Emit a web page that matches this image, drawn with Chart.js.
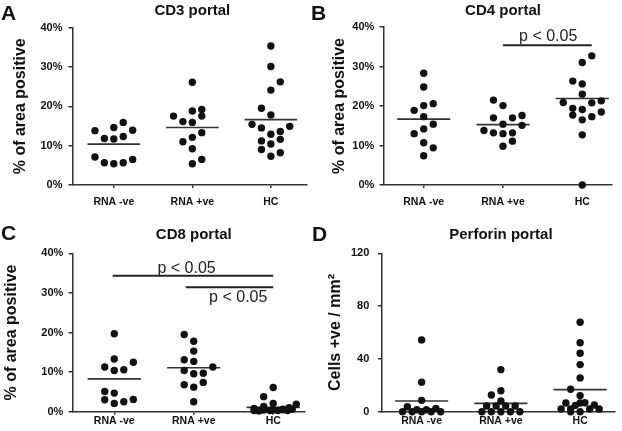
<!DOCTYPE html>
<html>
<head>
<meta charset="utf-8">
<script src="https://cdn.jsdelivr.net/npm/chart.js@4.4.1/dist/chart.umd.min.js"></script>
<style>
  html, body { margin: 0; padding: 0; background: #fff; }
  #wrap { position: relative; width: 622px; height: 431px; }
  canvas { position: absolute; }
</style>
</head>
<body>
<div id="wrap">
  <canvas id="cA" width="311" height="215" style="left:0;top:0"></canvas>
  <canvas id="cB" width="311" height="215" style="left:311px;top:0"></canvas>
  <canvas id="cC" width="311" height="215" style="left:0;top:216px"></canvas>
  <canvas id="cD" width="311" height="215" style="left:311px;top:216px"></canvas>
</div>
<script>
// groups on the x axis
var groups = ['RNA -ve', 'RNA +ve', 'HC'];
var pctTicks = [0, 10, 20, 30, 40];
var perfTicks = [0, 40, 80, 120];

// A - CD3 portal (% of area positive)
var cd3Neg = [13.8, 14.6, 15.9, 13.9, 11.8, 11.7, 12.3, 7.1, 5.65, 5.4, 5.65, 6.5];
var cd3Pos = [26.1, 17.5, 16.1, 15.9, 18.8, 19.2, 17.5, 13.3, 12.1, 11.0, 9.2, 5.4, 6.5];
var cd3HC = [35.3, 30.1, 26.2, 24.1, 19.5, 17.8, 15.4, 14.5, 13.6, 14.9, 12.9, 11.2, 11.6, 10.4, 9.0, 7.3, 8.2];
var cd3Means = [10.4, 14.6, 16.6];
// horizontal scatter of the dots (in category units)
var cd3NegJit = [-0.24, 0, 0.12, 0.24, -0.12, 0, 0.12, -0.24, -0.12, 0, 0.12, 0.24];
var cd3PosJit = [0, -0.24, -0.12, 0, 0, 0.12, 0.12, 0.12, 0, -0.12, 0, 0, 0.12];
var cd3HCJit = [0, 0, 0.12, 0, -0.12, 0, -0.24, -0.12, 0.12, 0.24, 0, -0.12, 0.12, 0, -0.12, 0, 0.12];

// B - CD4 portal
var cd4Neg = [28.3, 24.8, 18.9, 20.1, 20.6, 17.3, 15.4, 13.0, 14.2, 10.7, 9.4, 7.4];
var cd4Pos = [21.5, 20.1, 17.0, 15.4, 17.0, 17.6, 13.8, 13.2, 13.0, 13.2, 15.1, 9.8, 11.1];
var cd4HC = [32.7, 31.0, 26.3, 25.6, 23.0, 20.9, 19.1, 19.4, 20.8, 21.3, 17.7, 16.5, 17.3, 18.5, 12.7, 0];
var cd4Means = [16.7, 15.3, 21.9];
var cd4NegJit = [0, 0, -0.12, 0, 0.12, 0, 0.12, -0.12, 0, 0, 0.12, 0];
var cd4PosJit = [-0.12, 0, -0.12, 0, 0.12, 0.24, -0.24, -0.12, 0, 0.12, 0.24, 0, 0.12];
var cd4HCJit = [0.12, 0, -0.12, 0, 0, -0.24, 0, -0.12, 0.12, 0.24, -0.12, 0, 0.12, 0.24, 0, 0];

// C - CD8 portal
var cd8Neg = [19.7, 13.3, 11.3, 10.6, 10.4, 12.5, 5.1, 4.7, 3.0, 2.1, 2.5, 3.1];
var cd8Pos = [19.5, 17.8, 15.3, 13.1, 12.7, 10.4, 9.6, 9.7, 11.3, 6.8, 6.2, 7.4, 2.5];
var cd8HC = [6.1, 3.8, 2.1, 0.8, 0.4, 0.4, 0.6, 0.6, 1.9, 0.3, 1.3, 0.3, 0.3, 0.3, 0.5, 0.2, 1.0];
var cd8Means = [8.3, 11.1, 1.1];
var cd8NegJit = [0, 0, -0.12, 0.12, 0, 0.24, -0.12, 0, -0.12, 0, 0.12, 0.24];
var cd8PosJit = [-0.12, 0, 0, -0.12, 0, -0.12, 0, 0.12, 0.24, -0.12, 0, 0.12, 0];
var cd8HCJit = [0, -0.12, 0, -0.24, -0.12, 0, 0.12, 0.24, 0.29, -0.24, -0.12, 0.06, 0.18, -0.04, 0.12, -0.18, 0.2];

// D - Perforin portal (cells +ve / mm2)
var perfNeg = [54.4, 22.3, 8.6, 3.8, 0, 0, 0, 0, 0, 1.5, 1.5, 2.5];
var perfPos = [31.9, 15.9, 12.7, 8.1, 4.3, 4.3, 4.3, 4.3, 0, 0, 0, 0, 0];
var perfHC = [67.8, 52.2, 44.3, 35.7, 25.6, 17.0, 12.2, 6.6, 6.6, 6.8, 5.1, 2.0, 2.0, 4.8, 2.0, 2.0, 0, 0];
var perfMeans = [8.1, 6.3, 16.7];
var perfNegJit = [0, 0, 0, -0.18, -0.24, -0.12, 0, 0.12, 0.24, -0.06, 0.06, 0.18];
var perfPosJit = [0, 0, -0.12, 0, -0.18, -0.06, 0.06, 0.18, -0.24, -0.12, 0, 0.12, 0.24];
var perfHCJit = [0, 0, 0, 0, 0, -0.12, 0, -0.18, 0, 0.06, 0.18, -0.24, -0.12, -0.06, 0.12, 0.24, 0, -0.12];

// significance bars: [xFrom, xTo, y] and their labels [x, y]
var cd4Bars = [[2, 3.12, 35.4]];
var cd4PText = [[2.57, 36.4]];
var cd8Bars = [[0.98, 3, 34.3], [1.9, 3, 31.4]];
var cd8PText = [[1.91, 35.1], [2.56, 27.6]];

var FONT = "'Liberation Sans', Arial, Helvetica, sans-serif";
var INK = '#111';
var AXIS = '#333';

function makePanel(id, p) {
    var datasets = [];
    p.values.forEach(function (vals, i) {
        datasets.push({
            data: vals.map(function (v, k) { return { x: i + 1 + p.jitter[i][k], y: v }; }),
            pointRadius: 3.7,
            pointBackgroundColor: INK,
            pointBorderWidth: 0,
            clip: false
        });
        datasets.push({
            data: [{ x: i + 1 - 0.335, y: p.means[i] }, { x: i + 1 + 0.335, y: p.means[i] }],
            showLine: true,
            borderColor: AXIS,
            borderWidth: 1.7,
            pointRadius: 0
        });
    });
    (p.bars || []).forEach(function (b) {
        datasets.push({
            data: [{ x: b[0], y: b[2] }, { x: b[1], y: b[2] }],
            showLine: true,
            borderColor: '#222',
            borderWidth: 2,
            pointRadius: 0,
            clip: false
        });
    });

    var deco = {
        id: 'deco',
        afterDraw: function (chart) {
            var ctx = chart.ctx;
            var xs = chart.scales.x, ys = chart.scales.y;
            ctx.save();
            ctx.fillStyle = INK;
            ctx.textAlign = 'left';
            ctx.textBaseline = 'alphabetic';
            ctx.font = 'bold 21px ' + FONT;
            ctx.fillText(p.letter, p.letterPos[0], p.letterPos[1]);
            ctx.textAlign = 'center';
            ctx.font = 'bold 15px ' + FONT;
            ctx.fillText(p.title, xs.getPixelForValue(2), p.titleY);
            ctx.font = '16px ' + FONT;
            ctx.fillStyle = '#222';
            (p.pText || []).forEach(function (t) {
                ctx.fillText('p < 0.05', xs.getPixelForValue(t[0]), ys.getPixelForValue(t[1]));
            });
            ctx.restore();
        }
    };

    new Chart(document.getElementById(id), {
        type: 'scatter',
        data: { datasets: datasets },
        options: {
            responsive: false,
            animation: false,
            events: [],
            layout: { padding: { top: p.area.top, right: 311 - p.area.right, left: 0, bottom: 0 } },
            plugins: { legend: { display: false }, tooltip: { enabled: false } },
            scales: {
                x: {
                    type: 'linear',
                    min: p.xmin,
                    max: p.xmax,
                    afterFit: function (s) { s.height = 215 - p.area.bottom; },
                    afterBuildTicks: function (s) { s.ticks = [1, 2, 3].map(function (v) { return { value: v }; }); },
                    ticks: {
                        callback: function (v) { return groups[v - 1]; },
                        font: { family: FONT, size: 10.5, weight: 'bold' },
                        color: INK,
                        padding: p.xPad,
                        autoSkip: false,
                        maxRotation: 0
                    },
                    grid: { drawOnChartArea: false, drawTicks: true, tickLength: 3, color: AXIS, lineWidth: 1.5 },
                    border: { color: AXIS, width: 1.5 }
                },
                y: {
                    min: 0,
                    max: p.yTicks[p.yTicks.length - 1],
                    afterFit: function (s) { s.width = p.area.left; },
                    afterBuildTicks: function (s) { s.ticks = p.yTicks.map(function (v) { return { value: v }; }); },
                    ticks: {
                        callback: function (v) { return v + p.suffix; },
                        font: { family: FONT, size: 11, weight: 'bold' },
                        color: INK,
                        padding: p.yPad
                    },
                    grid: { drawOnChartArea: false, drawTicks: true, tickLength: 4, color: AXIS, lineWidth: 1.5 },
                    border: { color: AXIS, width: 1.5 },
                    title: {
                        display: true,
                        text: p.yTitle,
                        color: INK,
                        font: { family: FONT, size: 16, weight: 'bold' },
                        padding: { top: p.yTitlePad, bottom: 0 }
                    }
                }
            }
        },
        plugins: [deco]
    });
}

makePanel('cA', {
    values: [cd3Neg, cd3Pos, cd3HC], jitter: [cd3NegJit, cd3PosJit, cd3HCJit], means: cd3Means,
    area: { left: 72.5, right: 310, top: 27.5, bottom: 185 }, xmin: 0.474, xmax: 3.46,
    yTicks: pctTicks, suffix: '%', yTitle: '% of area positive', yTitlePad: 11,
    xPad: 7.5, yPad: 6, letter: 'A', letterPos: [1, 20], title: 'CD3 portal', titleY: 14.5
});
makePanel('cB', {
    values: [cd4Neg, cd4Pos, cd4HC], jitter: [cd4NegJit, cd4PosJit, cd4HCJit], means: cd4Means,
    bars: cd4Bars, pText: cd4PText,
    area: { left: 72.5, right: 301, top: 27, bottom: 185 }, xmin: 0.493, xmax: 3.375,
    yTicks: pctTicks, suffix: '%', yTitle: '% of area positive', yTitlePad: 19,
    xPad: 7.5, yPad: 5.2, letter: 'B', letterPos: [0, 20], title: 'CD4 portal', titleY: 14.5
});
makePanel('cC', {
    values: [cd8Neg, cd8Pos, cd8HC], jitter: [cd8NegJit, cd8PosJit, cd8HCJit], means: cd8Means,
    bars: cd8Bars, pText: cd8PText,
    area: { left: 72.7, right: 305, top: 37.3, bottom: 195.7 }, xmin: 0.477, xmax: 3.4,
    yTicks: pctTicks, suffix: '%', yTitle: '% of area positive', yTitlePad: 1.5,
    xPad: 0.5, yPad: 5.4, letter: 'C', letterPos: [1, 24], title: 'CD8 portal', titleY: 22.5
});
makePanel('cD', {
    values: [perfNeg, perfPos, perfHC], jitter: [perfNegJit, perfPosJit, perfHCJit], means: perfMeans,
    area: { left: 71, right: 304, top: 37.3, bottom: 195.7 }, xmin: 0.5, xmax: 3.44,
    yTicks: perfTicks, suffix: '', yTitle: 'Cells +ve / mm\u00b2', yTitlePad: 15.4,
    xPad: 0.5, yPad: 8.7, letter: 'D', letterPos: [1, 25], title: 'Perforin portal', titleY: 22.5
});
</script>
</body>
</html>
